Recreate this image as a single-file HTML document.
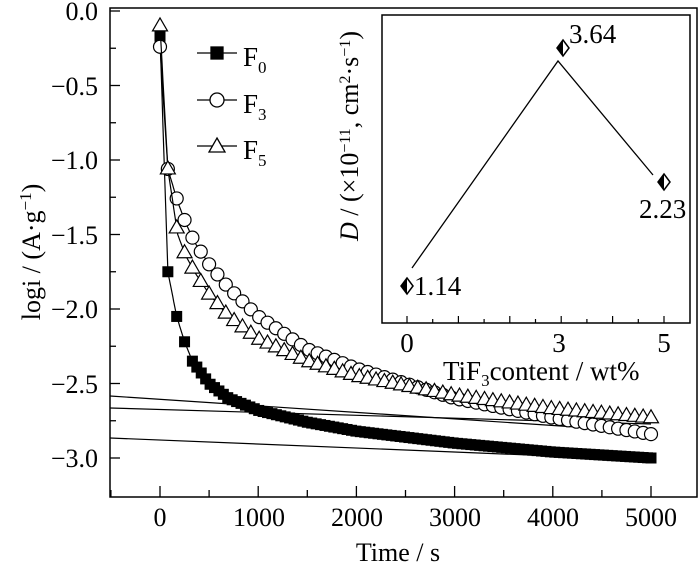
<!DOCTYPE html>
<html><head><meta charset="utf-8"><style>
body{margin:0;background:#fff}
svg{display:block;font-family:"Liberation Serif",serif}
</style></head><body>
<svg id="s" width="700" height="569" viewBox="0 0 700 569" xmlns="http://www.w3.org/2000/svg">
<rect x="110" y="8" width="587" height="489" fill="none" stroke="#000" stroke-width="1.5"/>
<g id="main"></g>
<g font-size="26" text-anchor="end">
<text x="98" y="20">0.0</text><text x="98" y="95">−0.5</text><text x="98" y="169">−1.0</text>
<text x="98" y="244">−1.5</text><text x="98" y="318">−2.0</text><text x="98" y="393">−2.5</text><text x="98" y="467">−3.0</text>
</g>
<g font-size="26" text-anchor="middle">
<text x="160" y="526">0</text><text x="259" y="526">1000</text><text x="357" y="526">2000</text>
<text x="455" y="526">3000</text><text x="553" y="526">4000</text><text x="651" y="526">5000</text>
<text x="398" y="561">Time / s</text>
</g>
<text transform="translate(40,252) rotate(-90)" font-size="26" text-anchor="middle">logi / (A·g<tspan baseline-shift="super" font-size="17">−1</tspan>)</text>
<g stroke="#000" stroke-width="1.3">
<line x1="197" y1="53" x2="237" y2="53"/><rect x="211" y="47" width="12" height="12" fill="#000"/>
<line x1="197" y1="100" x2="237" y2="100"/><circle cx="217" cy="100" r="7" fill="#fff"/>
<line x1="197" y1="146" x2="237" y2="146"/><polygon points="217,138 225,152 209,152" fill="#fff"/>
</g>
<g font-size="27"><text x="243" y="66">F<tspan font-size="17" dy="7">0</tspan></text>
<text x="243" y="113">F<tspan font-size="17" dy="7">3</tspan></text>
<text x="243" y="159">F<tspan font-size="17" dy="7">5</tspan></text></g>
<rect x="382" y="15" width="308" height="308" fill="#fff" stroke="#000" stroke-width="1.5"/>
<g id="inset"></g>
<polyline points="412,268 558,61 653,175" fill="none" stroke="#000" stroke-width="1.3"/>
<g font-size="27">
<text x="414" y="295">1.14</text><text x="569" y="43">3.64</text><text x="639" y="218">2.23</text>
<text x="407" y="352" text-anchor="middle">0</text><text x="559" y="352" text-anchor="middle">3</text><text x="664" y="352" text-anchor="middle">5</text>
<text x="443" y="380">TiF<tspan font-size="17" dy="6">3</tspan><tspan dy="-6">content / wt%</tspan></text>
</g>
<text transform="translate(358,136) rotate(-90)" font-size="26" text-anchor="middle"><tspan font-style="italic">D</tspan> / (×10<tspan baseline-shift="super" font-size="16">−11</tspan>, cm<tspan baseline-shift="super" font-size="16">2</tspan>·s<tspan baseline-shift="super" font-size="16">−1</tspan>)</text>
</svg>
<script>
const NS="http://www.w3.org/2000/svg";
function el(p,t,a){const e=document.createElementNS(NS,t);for(const k in a)e.setAttribute(k,a[k]);p.appendChild(e);return e;}
const m=document.getElementById('main'),ins=document.getElementById('inset');
const X=t=>160+t*0.0982, Y=v=>11-v*149;
for(let i=0;i<=13;i++){const y=Y(-i*0.25);if(y>495)break;el(m,'line',{x1:110,x2:i%2?116:120,y1:y,y2:y,stroke:'#000','stroke-width':1.3});}
for(let t=-500;t<=5000;t+=500){const L=t%1000===0?11:7;el(m,'line',{x1:X(t),x2:X(t),y1:497,y2:497-L,stroke:'#000','stroke-width':1.3});}
el(m,'line',{x1:110,y1:396,x2:651,y2:432,stroke:'#000','stroke-width':1.2});
el(m,'line',{x1:110,y1:408,x2:651,y2:424,stroke:'#000','stroke-width':1.2});
el(m,'line',{x1:110,y1:438,x2:651,y2:460,stroke:'#000','stroke-width':1.2});
function interp(A,t){for(let i=1;i<A.length;i++){if(t<=A[i][0]){const[a,b]=A[i-1],[c,d]=A[i];return b+(d-b)*(t-a)/(c-a);}}return A[A.length-1][1];}
const F0=[[0,-0.17],[80,-1.75],[170,-2.05],[250,-2.22],[330,-2.35],[500,-2.5],[700,-2.6],[1000,-2.68],[1500,-2.76],[2000,-2.82],[3000,-2.9],[4000,-2.96],[5000,-3.0]];
const F3=[[0,-0.24],[80,-1.06],[180,-1.28],[260,-1.42],[350,-1.55],[500,-1.7],[700,-1.86],[1000,-2.05],[1500,-2.27],[2000,-2.4],[3000,-2.6],[4000,-2.73],[5000,-2.84]];
const F5=[[0,-0.1],[80,-1.06],[180,-1.5],[260,-1.64],[350,-1.75],[500,-1.9],[700,-2.05],[1000,-2.2],[1500,-2.35],[2000,-2.45],[3000,-2.58],[4000,-2.67],[5000,-2.73]];
function mk(step){const a=[0,80,170,250,330];for(let t=330+step;t<5000;t+=step)a.push(t);a.push(5000);return a;}
function series(A,kind,ts){let d='';for(let t=0;t<=5000;t+=10)d+=(t?'L':'M')+X(t).toFixed(1)+' '+Y(interp(A,t)).toFixed(1);
el(m,'path',{d:d,fill:'none',stroke:'#000','stroke-width':1.2});
for(const t of ts){const x=X(t),y=Y(interp(A,t));
if(kind==0)el(m,'rect',{x:x-5.5,y:y-5.5,width:11,height:11,fill:'#000'});
else if(kind==1)el(m,'circle',{cx:x,cy:y,r:6.5,fill:'#fff',stroke:'#000','stroke-width':1.2});
else el(m,'polygon',{points:`${x},${y-8} ${x+7.5},${y+5} ${x-7.5},${y+5}`,fill:'#fff',stroke:'#000','stroke-width':1.2});}}
series(F0,0,mk(45));series(F3,1,mk(85));series(F5,2,mk(85));
for(let i=0;i<=11;i++){const x=407+i*25.7;if(x>688)break;el(ins,'line',{x1:x,x2:x,y1:323,y2:323-(i%2?4:7),stroke:'#000','stroke-width':1.2});}
for(const [x,y] of [[407,286],[563,48],[664,182]]){
el(ins,'polygon',{points:`${x},${y-8} ${x+6},${y} ${x},${y+8} ${x-6},${y}`,fill:'#fff',stroke:'#000','stroke-width':1.5});
el(ins,'polygon',{points:`${x},${y-8} ${x},${y+8} ${x-6},${y}`,fill:'#000'});}
</script>
</body></html>
